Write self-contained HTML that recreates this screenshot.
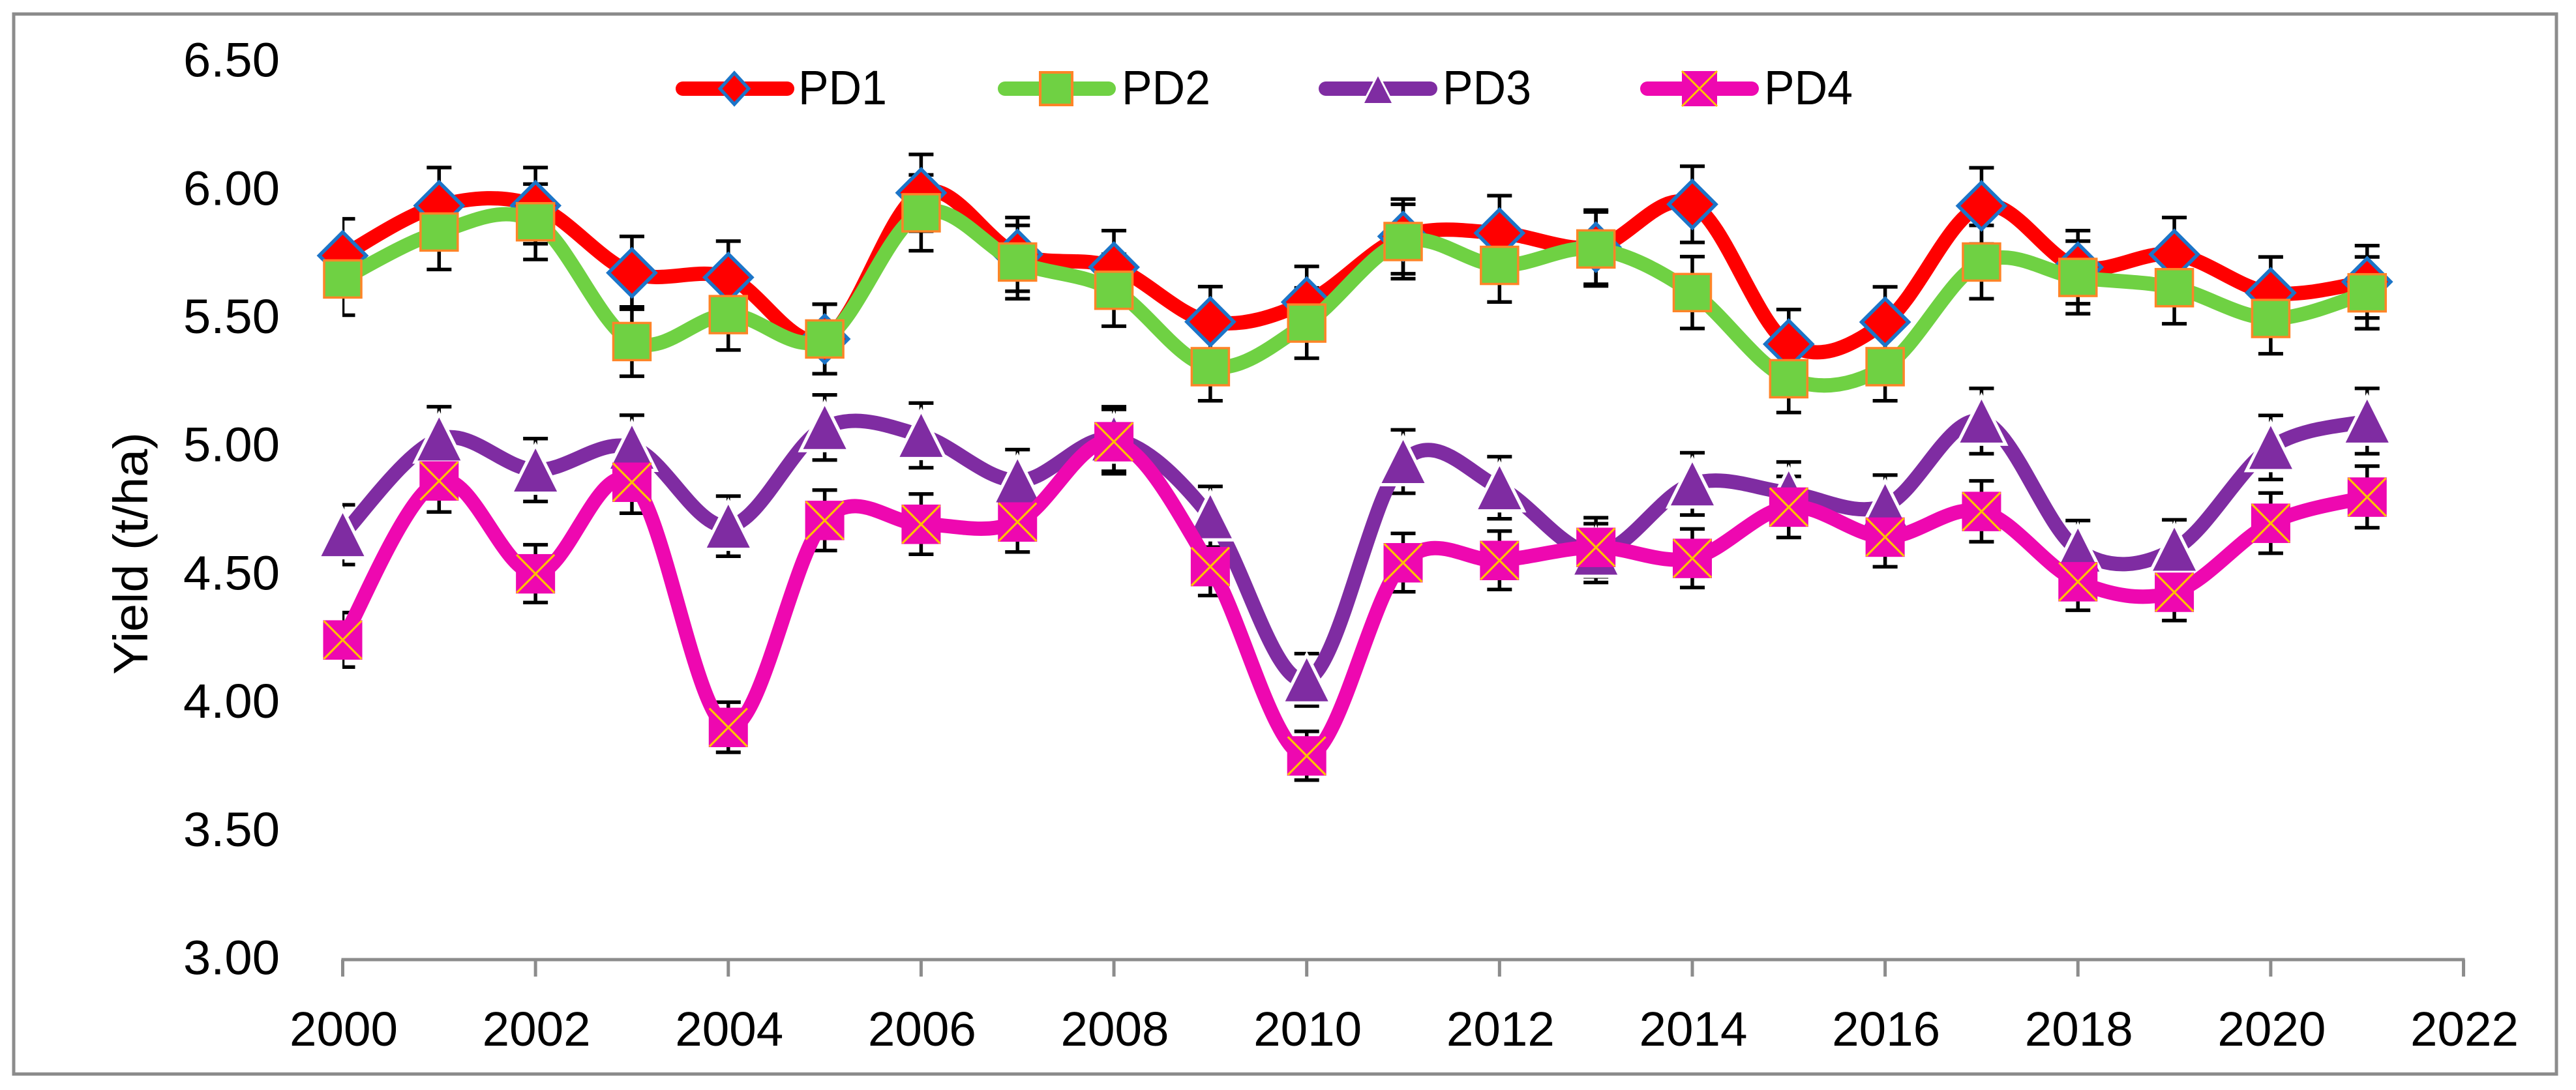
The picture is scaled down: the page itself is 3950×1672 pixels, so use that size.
<!DOCTYPE html>
<html lang="en">
<head>
<meta charset="utf-8">
<title>Yield by year, PD1 to PD4</title>
<style>
html,body{margin:0;padding:0;background:#fff;}
svg{display:block;}
text{font-family:"Liberation Sans",sans-serif;fill:#000;}
</style>
</head>
<body>
<svg id="chart" xmlns="http://www.w3.org/2000/svg" width="3950" height="1672" viewBox="0 0 3950 1672">
  <defs>
    <clipPath id="plot-clip"><rect x="525" y="0" width="3300" height="1672"/></clipPath>
  </defs>
  <rect x="0" y="0" width="3950" height="1672" fill="#ffffff"/>
  <rect x="21" y="21.5" width="3899" height="1626" fill="none" stroke="#8c8c8c" stroke-width="5"/>
  <g id="axes"></g>
  <g id="series"></g>
  <text transform="translate(226,849) rotate(-90)" text-anchor="middle" font-size="74" textLength="372" lengthAdjust="spacingAndGlyphs">Yield (t/ha)</text>
  <g>
    <g>
      <line x1="1047" y1="136" x2="1207" y2="136" stroke="#ff0000" stroke-width="22" stroke-linecap="round"/>
      <polygon points="1126,112 1148,136 1126,160 1104,136" fill="#ff0000" stroke="#1c75c8" stroke-width="5"/>
      <text x="1224" y="160" font-size="74" textLength="136" lengthAdjust="spacingAndGlyphs">PD1</text>
    </g>
    <g>
      <line x1="1541" y1="136" x2="1700" y2="136" stroke="#6fd143" stroke-width="22" stroke-linecap="round"/>
      <rect x="1595" y="111" width="49" height="50" fill="#6fd143" stroke="#ff8427" stroke-width="4"/>
      <text x="1720" y="160" font-size="74" textLength="136" lengthAdjust="spacingAndGlyphs">PD2</text>
    </g>
    <g>
      <line x1="2033" y1="136" x2="2193" y2="136" stroke="#7f2ca2" stroke-width="22" stroke-linecap="round"/>
      <polygon points="2113,117 2134,158 2092,158" fill="#7f2ca2" stroke="#ffffff" stroke-width="6" style="paint-order:stroke"/>
      <text x="2212" y="160" font-size="74" textLength="136" lengthAdjust="spacingAndGlyphs">PD3</text>
    </g>
    <g>
      <line x1="2526" y1="136" x2="2686" y2="136" stroke="#ee08b0" stroke-width="22" stroke-linecap="round"/>
      <rect x="2579" y="109" width="54" height="54" fill="#ee08b0"/>
      <path d="M2579,109 L2633,163 M2633,109 L2579,163" fill="none" stroke="#ffc000" stroke-width="3"/>
      <text x="2705" y="160" font-size="74" textLength="136" lengthAdjust="spacingAndGlyphs">PD4</text>
    </g>
  </g>
</svg>
<script>
const years = [2000,2001,2002,2003,2004,2005,2006,2007,2008,2009,2010,2011,2012,2013,2014,2015,2016,2017,2018,2019,2020,2021];
const pd1 = [5.745,5.94,5.94,5.678,5.66,5.42,5.99,5.75,5.70,5.487,5.564,5.82,5.833,5.778,5.945,5.40,5.486,5.939,5.70,5.75,5.60,5.643];
const pd2 = [5.654,5.837,5.877,5.41,5.515,5.42,5.912,5.72,5.61,5.312,5.482,5.80,5.707,5.771,5.601,5.265,5.312,5.72,5.66,5.62,5.50,5.60];
const pd3 = [4.657,5.03,4.909,4.998,4.69,5.075,5.044,4.867,5.03,4.727,4.091,4.942,4.84,4.585,4.855,4.82,4.77,5.10,4.597,4.60,4.997,5.10];
const pd4 = [4.247,4.867,4.505,4.862,3.906,4.713,4.698,4.707,5.02,4.533,3.795,4.548,4.557,4.608,4.565,4.765,4.648,4.748,4.474,4.433,4.702,4.804];
const errorFraction = 0.025;
const xTickLabels = ["2000","2002","2004","2006","2008","2010","2012","2014","2016","2018","2020","2022"];
const yTickLabels = ["3.00","3.50","4.00","4.50","5.00","5.50","6.00","6.50"];

const SVG_NS = "http://www.w3.org/2000/svg";
const axesLayer = document.getElementById("axes");
const seriesLayer = document.getElementById("series");

function xAxis(year){ return 525.5 + (year - 2000) * 147.82; }
function yAxis(value){ return 1472 - (value - 3) * 393.4; }

function make(tag, attrs, parent){
  const el = document.createElementNS(SVG_NS, tag);
  for (const k in attrs) el.setAttribute(k, attrs[k]);
  parent.appendChild(el);
  return el;
}

function smoothPath(points){
  let d = "M" + points[0][0].toFixed(1) + "," + points[0][1].toFixed(1);
  for (let i = 0; i < points.length - 1; i++){
    const p0 = points[Math.max(i - 1, 0)];
    const p1 = points[i];
    const p2 = points[i + 1];
    const p3 = points[Math.min(i + 2, points.length - 1)];
    const c1x = p1[0] + (p2[0] - p0[0]) / 6;
    const c1y = p1[1] + (p2[1] - p0[1]) / 6;
    const c2x = p2[0] - (p3[0] - p1[0]) / 6;
    const c2y = p2[1] - (p3[1] - p1[1]) / 6;
    d += " C" + c1x.toFixed(1) + "," + c1y.toFixed(1) + " " + c2x.toFixed(1) + "," + c2y.toFixed(1) + " " + p2[0].toFixed(1) + "," + p2[1].toFixed(1);
  }
  return d;
}

/* axes */
const axisLine = make("line", {x1: xAxis(2000) - 2, y1: 1472, x2: xAxis(2022) + 2, y2: 1472, stroke: "#8c8c8c", "stroke-width": 5}, axesLayer);



xTickLabels.forEach(function(label){
  const x = xAxis(Number(label));
  const tick = make("line", {x1: x, y1: 1472, x2: x, y2: 1498, stroke: "#8c8c8c", "stroke-width": 5}, axesLayer);
  
  
  const text = make("text", {x: x + 1.5, y: 1604, "font-size": 74, "text-anchor": "middle", textLength: 166, lengthAdjust: "spacingAndGlyphs"}, axesLayer);
  text.textContent = label;
  
  
});

yTickLabels.forEach(function(label){
  const y = yAxis(Number(label));
  const text = make("text", {x: 429, y: y + 22.5, "font-size": 74, "text-anchor": "end", textLength: 148, lengthAdjust: "spacingAndGlyphs"}, axesLayer);
  text.textContent = label;
  
  
});

/* series */
const errorLayer = make("g", {}, seriesLayer);



function drawErrorBars(values){
  const bars = make("g", {"clip-path": "url(#plot-clip)", stroke: "#000", "stroke-width": 5.5, fill: "none"}, errorLayer);
  
  
  values.forEach(function(v, i){
    const x = xAxis(years[i]);
    const top = yAxis(v * (1 + errorFraction));
    const bottom = yAxis(v * (1 - errorFraction));
    const bar = make("path", {d: "M" + x + "," + top + " V" + bottom + " M" + (x - 19) + "," + top + " H" + (x + 19) + " M" + (x - 19) + "," + bottom + " H" + (x + 19)}, bars);
    
    
  });
}

function drawLine(values, color, group){
  const pts = values.map(function(v, i){ return [xAxis(years[i]), yAxis(v)]; });
  const line = make("path", {d: smoothPath(pts), fill: "none", stroke: color, "stroke-width": 22, "stroke-linejoin": "round"}, group);
  
  
}

function drawDiamond(x, y, group){
  const r = 36;
  const m = make("polygon", {points: x + "," + (y - r) + " " + (x + r) + "," + y + " " + x + "," + (y + r) + " " + (x - r) + "," + y, fill: "#ff0000", stroke: "#1c75c8", "stroke-width": 5.5}, group);
  
  
}
function drawGreenSquare(x, y, group){
  const m = make("rect", {x: x - 28.5, y: y - 28.5, width: 57, height: 57, fill: "#6fd143", stroke: "#ff8427", "stroke-width": 3.5}, group);
  
  
}
function drawTriangle(x, y, group){
  const m = make("polygon", {points: x + "," + (y - 33) + " " + (x + 33) + "," + (y + 33) + " " + (x - 33) + "," + (y + 33), fill: "#7f2ca2", stroke: "#ffffff", "stroke-width": 10, style: "paint-order:stroke"}, group);
  
  
}
function drawCrossSquare(x, y, group){
  const m = make("g", {}, group);
  
  
  make("rect", {x: x - 30, y: y - 30, width: 60, height: 60.5, fill: "#ee08b0"}, m);
  make("path", {d: "M" + (x - 29) + "," + (y - 29) + " L" + (x + 29) + "," + (y + 29.5) + " M" + (x + 29) + "," + (y - 29) + " L" + (x - 29) + "," + (y + 29.5), fill: "none", stroke: "#ffc000", "stroke-width": 3.2}, m);
}

function drawSeries(name, values, color, marker){
  drawErrorBars(values);
  const group = make("g", {}, seriesLayer);
  
  
  drawLine(values, color, group);
  values.forEach(function(v, i){ marker(xAxis(years[i]), yAxis(v), group); });
}

drawSeries("series-pd1", pd1, "#ff0000", drawDiamond);
drawSeries("series-pd2", pd2, "#6fd143", drawGreenSquare);
drawSeries("series-pd3", pd3, "#7f2ca2", drawTriangle);
drawSeries("series-pd4", pd4, "#ee08b0", drawCrossSquare);
</script>
</body>
</html>
